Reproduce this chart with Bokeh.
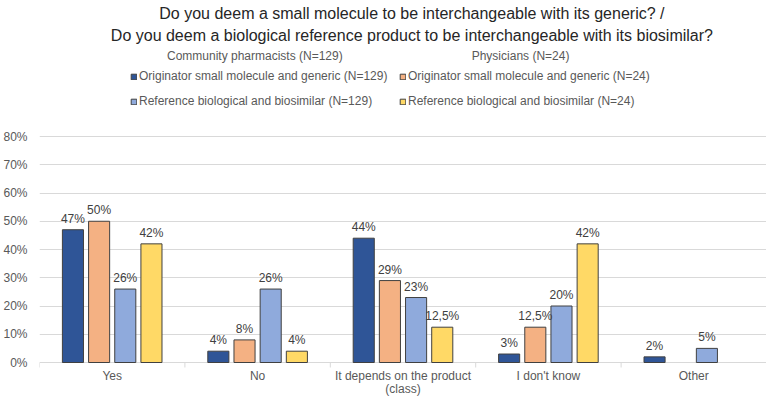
import math
from bokeh.plotting import figure
from bokeh.core.properties import value
from bokeh.models import (ColumnDataSource, Range1d, FixedTicker, PrintfTickFormatter,
                          LabelSet, Label, Legend, LegendItem)
from bokeh.transform import dodge
from bokeh.embed import file_html
from bokeh.resources import INLINE

# ---- data ----
categories = ["Yes", "No", "It depends on the product\n(class)", "I don't know", "Other"]
pharm_generic = [47, 4, 44, 3, 2]            # Community pharmacists, small molecule & generic
phys_generic = [50, 8, 29, 12.5, math.nan]   # Physicians, small molecule & generic
pharm_bio = [26, 26, 23, 20, 5]              # Community pharmacists, biological & biosimilar
phys_bio = [42, 4, 12.5, 42, math.nan]       # Physicians, biological & biosimilar
y_ticks = [0, 10, 20, 30, 40, 50, 60, 70, 80]

title_lines = ["Do you deem a small molecule to be interchangeable with its generic? /",
               "Do you deem a biological reference product to be interchangeable with its biosimilar?"]
group_headers = ["Community pharmacists (N=129)", "Physicians (N=24)"]
series_names = ["Originator small molecule and generic (N=129)",
                "Originator small molecule and generic (N=24)",
                "Reference biological and biosimilar (N=129)",
                "Reference biological and biosimilar (N=24)"]
series_values = [pharm_generic, phys_generic, pharm_bio, phys_bio]
colors = ["#2F5597", "#F4B183", "#8FAADC", "#FFD966"]
offsets = [-0.27, -0.09, 0.09, 0.27]

FONT = "Liberation Sans"
W, H = 766, 398
FL = 30                     # left border for the y tick labels
X0 = 8                      # horizontal page offset of the canvas
PAGE_TOP, PAGE_BOTTOM = 0, H
Y_ZERO = 362                # picture px of the 0% line
Y_80 = 136                  # picture px of the 80% line
PER_PX = 80 / (Y_ZERO - Y_80)
YMAX = 80 + (Y_80 - PAGE_TOP) * PER_PX
YMIN = -(PAGE_BOTTOM - Y_ZERO) * PER_PX

n = len(categories)
centers = [i + 0.5 for i in range(n)]          # category slots on the x scale
bounds = list(range(n + 1))                    # slot boundaries
frame_w = W - FL


def dx(page_x):
    return (page_x - X0 - FL) / frame_w * n


def dy(page_y):
    return (Y_ZERO - page_y) * PER_PX


def fmt(v):
    if v is None or (isinstance(v, float) and math.isnan(v)):
        return ""
    return f"{v:g}%".replace(".", ",")


p = figure(width=W, height=H, output_backend="svg", toolbar_location=None,
           x_range=Range1d(0, n), y_range=Range1d(YMIN, YMAX), x_axis_location=None,
           min_border_left=FL, min_border_top=0, min_border_right=0, min_border_bottom=0)
p.title = None
p.outline_line_color = None
p.background_fill_color = "white"
p.border_fill_color = "white"

# y axis
p.yaxis.ticker = FixedTicker(ticks=y_ticks)
p.yaxis.formatter = PrintfTickFormatter(format="%d%%")
p.yaxis.axis_line_color = None
p.yaxis.major_tick_line_color = None
p.yaxis.minor_tick_line_color = None
p.yaxis.major_label_text_font = FONT
p.yaxis.major_label_text_font_size = "12px"
p.yaxis.major_label_text_color = "#595959"
p.yaxis.major_label_standoff = 6
p.ygrid.grid_line_color = "#D9D9D9"
p.ygrid.grid_line_width = 1
p.xgrid.grid_line_color = None

# category axis: boundary ticks + (centred, possibly two-line) labels under the 0% line
tick_len = 5 * PER_PX
tsrc = ColumnDataSource(dict(x=bounds, y0=[0] * len(bounds), y1=[-tick_len] * len(bounds)))
p.segment(x0="x", y0="y0", x1="x", y1="y1", source=tsrc, line_color="#D9D9D9", line_width=1)
first_lines = [c.split("\n")[0] for c in categories]
second_lines = [c.split("\n")[1] if "\n" in c else "" for c in categories]
for lines, off in [(first_lines, -6), (second_lines, -19)]:
    csrc = ColumnDataSource(dict(pos=centers, base=[0] * n, name=lines))
    p.add_layout(LabelSet(x="pos", y="base", text="name", source=csrc, y_offset=off,
                          text_align="center", text_baseline="top", text_font=value(FONT),
                          text_font_size=value("12px"), text_color="#595959"))

# bars + labels
renderers = []
for name, vals, col, off in zip(series_names, series_values, colors, offsets):
    src = ColumnDataSource(dict(pos=centers, val=vals, lab=[fmt(v) for v in vals]))
    r = p.vbar(x=dodge("pos", off), top="val", width=0.145, source=src,
               fill_color=col, line_color="#404040", line_width=1)
    renderers.append(r)
    p.add_layout(LabelSet(x=dodge("pos", off), y="val", text="lab", source=src,
                          y_offset=4, text_align="center", text_baseline="bottom",
                          text_font=value(FONT), text_font_size=value("12px"), text_color="#404040"))

# title
for line, py in zip(title_lines, [13, 35]):
    p.add_layout(Label(x=dx(415), y=dy(py), text=line,
                       text_align="center", text_baseline="middle", text_font=FONT,
                       text_font_size="16px", text_color="#262626"))

# group headers
for hdr, px in zip(group_headers, [256, 525]):
    p.add_layout(Label(x=dx(px), y=dy(55), text=hdr,
                       text_align="center", text_baseline="middle", text_font=FONT,
                       text_font_size="12px", text_color="#595959"))

# legends
for idxs, px in [((0, 2), 129), ((1, 3), 398)]:
    items = [LegendItem(label=series_names[i], renderers=[renderers[i]]) for i in idxs]
    lg = Legend(items=items, location=(px - X0 - FL, PAGE_BOTTOM - 111), orientation="vertical",
                border_line_color=None, background_fill_alpha=0, padding=0, margin=0,
                glyph_width=7, glyph_height=7, label_standoff=2, spacing=5, label_height=20,
                label_text_font=FONT, label_text_font_size="12px", label_text_color="#595959")
    p.add_layout(lg, "center")

open("out.html", "w").write(file_html(p, INLINE))
